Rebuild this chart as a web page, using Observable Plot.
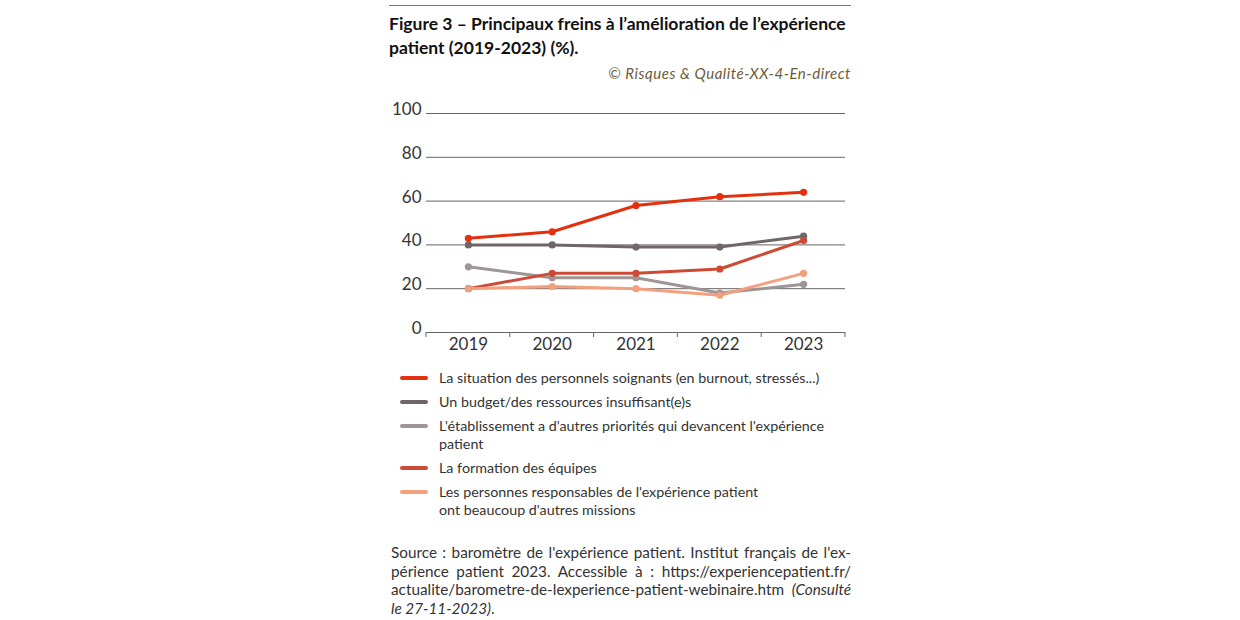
<!DOCTYPE html>
<html><head><meta charset="utf-8">
<script src="https://cdn.jsdelivr.net/npm/d3@7"></script>
<script src="https://cdn.jsdelivr.net/npm/@observablehq/plot@0.6"></script>
<style>
body{margin:0;width:1240px;height:620px;background:#fff;position:relative;font-family:Lato,sans-serif;color:#222;}
#rule{position:absolute;left:389px;top:5px;width:462px;height:1px;background:#777;}
#title{position:absolute;left:389px;top:12px;width:480px;font-weight:bold;font-size:17.5px;line-height:24px;color:#111;white-space:nowrap;}
#copy{position:absolute;right:389px;top:64px;font-style:italic;font-size:15px;letter-spacing:0.55px;color:#6e5c3a;white-space:nowrap;}
#chart{position:absolute;left:380px;top:98px;}
#legend{position:absolute;left:400px;top:369px;width:450px;font-size:14.3px;line-height:17.5px;color:#333;white-space:nowrap;}
.item{display:flex;align-items:flex-start;margin-bottom:6.7px;}
.sw{flex:0 0 28px;height:4px;border-radius:2px;margin-top:7px;margin-right:11px;}
#source{position:absolute;left:391px;top:543px;width:460px;font-size:15.3px;line-height:18.5px;color:#333;}
#source .j{text-align:justify;text-align-last:justify;white-space:nowrap;}
</style></head>
<body>
<div id="rule"></div>
<div id="title">Figure 3 – Principaux freins à l’amélioration de l’expérience<br>patient (2019-2023) (%).</div>
<div id="copy">© Risques &amp; Qualité-XX-4-En-direct</div>
<div id="chart"></div>
<div id="legend"></div>
<div id="source"></div>
<script>
const years = [2019, 2020, 2021, 2022, 2023];
const seriesNames = [
  "La situation des personnels soignants (en burnout, stressés...)",
  "Un budget/des ressources insuffisant(e)s",
  "L'établissement a d'autres priorités qui devancent l'expérience patient",
  "La formation des équipes",
  "Les personnes responsables de l'expérience patient ont beaucoup d'autres missions"
];
const legendLabels = [
  "La situation des personnels soignants (en burnout, stressés...)",
  "Un budget/des ressources insuffisant(e)s",
  "L'établissement a d'autres priorités qui devancent l'expérience<br>patient",
  "La formation des équipes",
  "Les personnes responsables de l'expérience patient<br>ont beaucoup d'autres missions"
];
const sourceLines = [
  "Source : baromètre de l'expérience patient. Institut français de l'ex-",
  "périence patient 2023. Accessible à : https://experiencepatient.fr/",
  "actualite/barometre-de-lexperience-patient-webinaire.htm <i>(Consulté</i>",
  "<i>le 27-11-2023)</i>."
];
const seriesColors = ["#e4300f", "#6f6767", "#9e9595", "#cd4a35", "#f3a07f"];
const situation = [43, 46, 58, 62, 64];
const budget = [40, 40, 39, 39, 44];
const priorites = [30, 25, 25, 18, 22];
const formation = [20, 27, 27, 29, 42];
const responsables = [20, 21, 20, 17, 27];
const yTicks = [0, 20, 40, 60, 80, 100];

const allValues = [situation, budget, priorites, formation, responsables];
const drawOrder = [1, 2, 3, 4, 0];
const data = [];
for (const s of drawOrder) {
  years.forEach((yr, i) => data.push({year: yr, value: allValues[s][i], series: seriesNames[s]}));
}
const bounds = [years[0] - 0.5, ...years.map(y => y + 0.5)];

const plot = Plot.plot({
  width: 470, height: 260,
  marginLeft: 46, marginRight: 5, marginTop: 15, marginBottom: 26,
  style: {fontFamily: "Lato, sans-serif", fontSize: "17px", color: "#333", background: "transparent"},
  x: {type: "linear", domain: [bounds[0], bounds[bounds.length - 1]], label: null},
  y: {domain: [0, 100], label: null},
  color: {domain: seriesNames, range: seriesColors},
  marks: [
    Plot.ruleY(yTicks, {stroke: "#6b6464", strokeWidth: 1}),
    Plot.ruleX(bounds, {x: d => d, stroke: "#6b6464", render: (index, scales, values, dims, ctx, next) => {
      const g = d3.create("svg:g");
      const y0 = scales.y(0);
      for (const i of index) {
        g.append("line").attr("x1", values.x[i]).attr("x2", values.x[i]).attr("y1", y0).attr("y2", y0 + 5).attr("stroke", "#6b6464");
      }
      return g.node();
    }}),
    Plot.axisX({ticks: years, tickSize: 0, tickPadding: 5, tickFormat: d => String(d), fontSize: 17, fill: "#333", label: null}),
    Plot.axisY({ticks: yTicks, tickSize: 0, tickPadding: 5, dy: -4, fontSize: 17, fill: "#333", label: null}),
    Plot.line(data, {x: "year", y: "value", z: "series", stroke: "series", strokeWidth: 3}),
    Plot.dot(data, {x: "year", y: "value", fill: "series", r: 3.6})
  ]
});
document.getElementById("chart").appendChild(plot);

const leg = document.getElementById("legend");
legendLabels.forEach((lab, i) => {
  const it = document.createElement("div");
  it.className = "item";
  it.innerHTML = `<span class="sw" style="background:${seriesColors[i]}"></span><span>${lab}</span>`;
  leg.appendChild(it);
});
const src = document.getElementById("source");
sourceLines.forEach((l, i) => {
  const d = document.createElement("div");
  if (i < sourceLines.length - 1) d.className = "j";
  d.innerHTML = l;
  src.appendChild(d);
});
</script>
</body></html>
